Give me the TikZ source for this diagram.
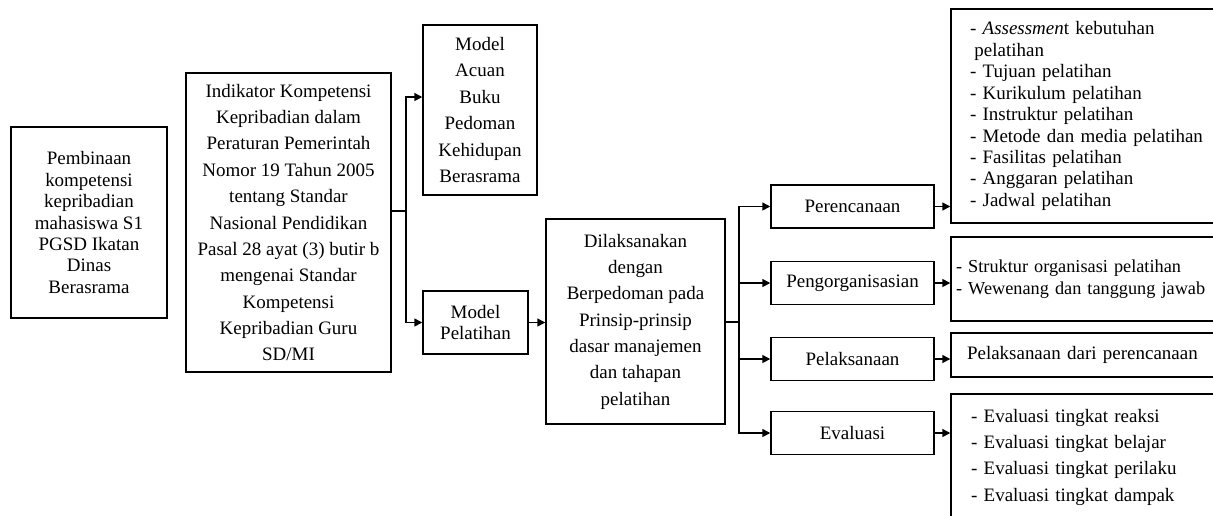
\documentclass[tikz,border=0pt]{standalone}
\usepackage{fontspec}
\setmainfont{Liberation Serif}
\usetikzlibrary{arrows.meta}
\begin{document}
\begin{tikzpicture}[x=0.02cm,y=-0.02cm,
  line width=0.85pt,
  box/.style={draw,inner sep=0pt,align=center},
  single/.style={font=\fontsize{10.8}{12.2}\selectfont},
  wide/.style={font=\fontsize{10.8}{15}\selectfont},
  stagebox/.style={box,single,minimum width=3.26cm,minimum height=0.86cm},
  listbox/.style={draw,inner ysep=0pt,align=left,minimum height=#1},
  arr/.style={-{Triangle[length=4.5pt,width=4.5pt]}}]
\clip (0,0) rectangle (1213,515);

\node[box,single,minimum width=3.12cm,minimum height=3.82cm] (A) at (89,222.5)
  {Pembinaan\\kompetensi\\kepribadian\\mahasiswa S1\\PGSD Ikatan\\Dinas\\Berasrama};
\node[box,wide,minimum width=4.10cm,minimum height=5.98cm] (B) at (288.5,222.5)
  {Indikator Kompetensi\\Kepribadian dalam\\Peraturan Pemerintah\\Nomor 19 Tahun 2005\\tentang Standar\\Nasional Pendidikan\\Pasal 28 ayat (3) butir b\\mengenai Standar\\Kompetensi\\Kepribadian Guru\\SD/MI};
\node[box,wide,minimum width=2.28cm,minimum height=3.40cm] (C) at (480,110)
  {Model\\Acuan\\Buku\\Pedoman\\Kehidupan\\Berasrama};
\node[box,single,minimum width=2.10cm,minimum height=1.26cm] (D) at (475.5,322.5)
  {Model\\Pelatihan};
\node[box,wide,minimum width=3.58cm,minimum height=4.10cm] (E) at (635.5,321.5)
  {Dilaksanakan\\dengan\\Berpedoman pada\\Prinsip-prinsip\\dasar manajemen\\dan tahapan\\pelatihan};

\node[stagebox] (P1) at (852.5,206.5) {Perencanaan};
\node[stagebox] (P2) at (852.5,283) {Pengorganisasian};
\node[stagebox] (P3) at (852.5,359) {Pelaksanaan};
\node[stagebox] (P4) at (852.5,433) {Evaluasi};

\node[listbox=4.28cm,single,inner xsep=0.38cm,text width=4.82cm] (R1) at (1090.5,116)
  {- \textit{Assessmen}t kebutuhan\\\hspace*{2.5pt}pelatihan\\- Tujuan pelatihan\\- Kurikulum pelatihan\\- Instruktur pelatihan\\- Metode dan media pelatihan\\- Fasilitas pelatihan\\- Anggaran pelatihan\\- Jadwal pelatihan};
\node[listbox=1.68cm,font=\fontsize{10.4}{12.2}\selectfont,inner xsep=0.1cm,text width=5.38cm] (R2) at (1090.5,279)
  {- Struktur organisasi pelatihan\\- Wewenang dan tanggung jawab\\[6pt]};
\node[listbox=0.88cm,single,inner xsep=0.32cm,text width=4.94cm] (R3) at (1090.5,355)
  {Pelaksanaan dari perencanaan};
\node[listbox=2.52cm,wide,inner xsep=0.40cm,text width=4.78cm] (R4) at (1090.5,457)
  {- Evaluasi tingkat reaksi\\- Evaluasi tingkat belajar\\- Evaluasi tingkat perilaku\\- Evaluasi tingkat dampak};

% bus from B
\coordinate (b1) at (406,211);
\coordinate (bt) at (406,97);
\coordinate (bb) at (406,323);
\draw (b1 -| B.east) -- (b1);
\draw[arr] (bb) -- (bt) -- (C.west |- bt);
\draw[arr] (bt) |- (D.west);
\draw[arr] (D.east) -- (E.west |- D.east);

% bus from E
\coordinate (e1) at (739,322);
\draw (E.east |- e1) -- (e1);
\draw[arr] (e1) |- (P1.west);
\draw[arr] (e1) |- (P2.west);
\draw[arr] (e1) |- (P3.west);
\draw[arr] (e1) |- (P4.west);

\draw[arr] (P1.east) -- (R1.west |- P1.east);
\draw[arr] (P2.east) -- (R2.west |- P2.east);
\draw[arr] (P3.east) -- (R3.west |- P3.east);
\draw[arr] (P4.east) -- (R4.west |- P4.east);
\end{tikzpicture}
\end{document}
